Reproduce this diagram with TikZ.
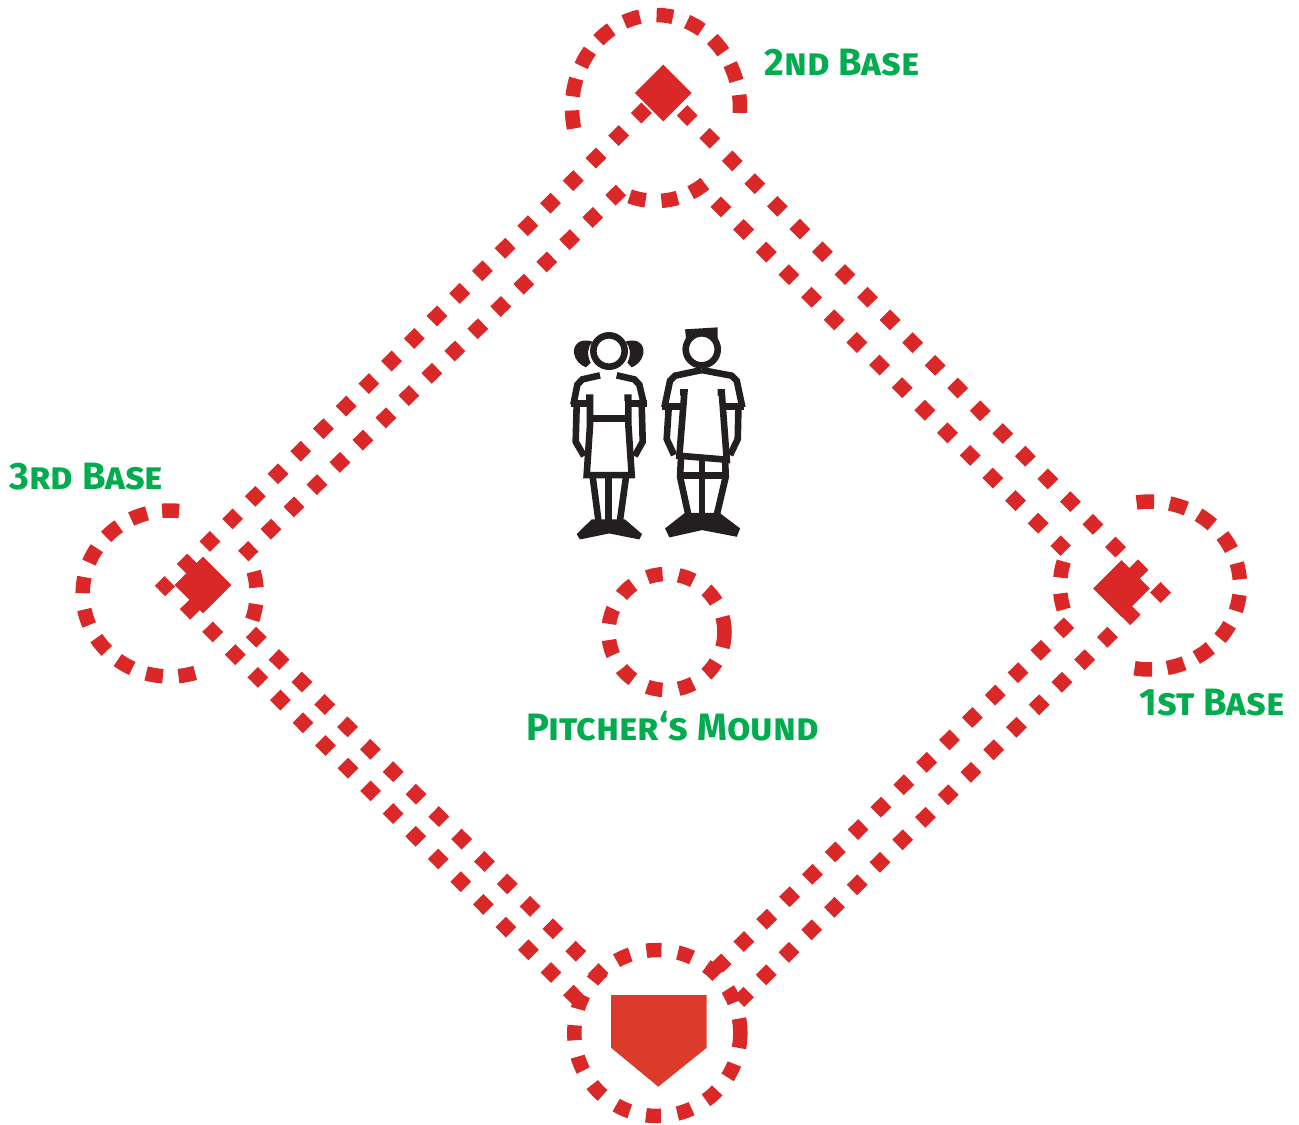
\documentclass[tikz,border=0pt]{standalone}
\usepackage{fontspec}
\setmainfont{Fira Sans}
\usetikzlibrary{shapes.geometric}
\definecolor{basered}{HTML}{DA2728}
\definecolor{platered}{HTML}{DC3A2A}
\definecolor{labelgreen}{HTML}{00AC4E}
\definecolor{figink}{HTML}{231F20}
\tikzset{
  pathdash/.style={basered,line width=2.95mm,dash pattern=on 2.95mm off 3.45mm},
  ringdash/.style={basered,line width=2.9mm},
  basemark/.style={shape=diamond,fill=basered,minimum width=11.4mm,minimum height=11.4mm,inner sep=0pt},
  baselabel/.style={anchor=base west,text=labelgreen,inner sep=0pt,font=\fontsize{21.7}{22}\selectfont\bfseries\scshape},
  figline/.style={figink,line width=1.32mm,line join=miter},
}
\begin{document}
\begin{tikzpicture}[x=.2mm,y=-.2mm]
\useasboundingbox (0,0) rectangle (1299,1124);
% rings round the bases
\coordinate (ringii) at (656,108);
\coordinate (ringi) at (1150,585.5);
\coordinate (ringiii) at (169.7,593.5);
\foreach \a in {-84,-62.7,-42.4,-22.5,-2.5,60,80.7,102.7,172.9,192.8,212.5,232.3,253.4}
  \draw[ringdash] (ringii) ++(\a-5.6:84 and 93) arc[start angle=\a-5.6,delta angle=11.2,x radius=84,y radius=93];
\foreach \a in {-93,-71.8,-51.8,-30.9,-9.8,12,33.4,53.5,73.4,94.3,169,191}
  \draw[ringdash] (ringi) ++(\a-5.6:90 and 84) arc[start angle=\a-5.6,delta angle=11.2,x radius=90,y radius=84];
\foreach \a in {-89.4,249.3,228.6,207.5,185.8,163.3,141.9,121.1,100.1,78.6,-9.7,12.9}
  \draw[ringdash] (ringiii) ++(\a-5.6:87 and 83) arc[start angle=\a-5.6,delta angle=11.2,x radius=87,y radius=83];
\draw[basered,line width=2.9mm,dash pattern=on 3mm off 3.3375mm] (740.3,1033) arc[start angle=0,delta angle=360,radius=83];
\draw[basered,line width=2.9mm,dash pattern=on 3.1mm off 3.245mm] (724.5,632) arc[start angle=0,delta angle=360,radius=58];
% base paths
\coordinate (nwa) at (646.6,107.8);  \coordinate (nwb) at (160,591);
\coordinate (nwc) at (621,190);      \coordinate (nwd) at (243.3,556);
\coordinate (nea) at (682,110.3);    \coordinate (neb) at (1166,598);
\coordinate (nec) at (715.7,201.7);  \coordinate (ned) at (1065.7,550.7);
\coordinate (sea) at (1135.4,609.5); \coordinate (seb) at (739,1001.7);
\coordinate (sec) at (1069,622.7);   \coordinate (sed) at (717.7,967.3);
\coordinate (swa) at (185,604);      \coordinate (swb) at (578.3,1000);
\coordinate (swc) at (251,632);      \coordinate (swd) at (603.3,978.3);
\draw[pathdash] (nwa) -- (nwb);
\draw[pathdash] (nwc) -- (nwd);
\draw[pathdash] (nea) -- (neb);
\draw[pathdash] (nec) -- (ned);
\draw[pathdash] (sea) -- (seb);
\draw[pathdash] (sec) -- (sed);
\draw[pathdash] (swa) -- (swb);
\draw[pathdash] (swc) -- (swd);
% bases
\node[basemark] (second) at (663.3,93) {};
\node[basemark] (third) at (203,585) {};
\node[basemark] (first) at (1121.5,588.5) {};
\fill[platered] (611,995) -- (706.7,995) -- (706.7,1047.7) -- (658.3,1086.7) -- (611,1047.7) -- cycle;
% labels
\node[baselabel] (secondlabel) at (764,75) {2nd Base};
\node[baselabel] (thirdlabel) at (9,489.5) {3rd Base};
\node[baselabel] (firstlabel) at (1139,715) {1st Base};
\node[baselabel] (moundlabel) at (526,740) {Pitcher‘s Mound};
% girl
\begin{scope}[shift={(550,310)},x=.0667mm,y=-.0667mm]
\draw[figline] (177,123) circle (47);
\fill[figink] (128,95) .. controls (90,82) and (68,105) .. (72,130) .. controls (75,150) and (90,165) .. (108,172) -- (122,158) .. controls (110,135) and (112,110) .. cycle;
\fill[figink] (226,95) .. controls (264,82) and (284,105) .. (280,130) .. controls (277,150) and (262,165) .. (245,172) -- (232,158) .. controls (244,135) and (242,110) .. cycle;
\draw[figline] (150,196) -- (97,208) -- (82,224) -- (70,284);
\draw[figline] (200,196) -- (253,208) -- (268,224) -- (282,284);
\draw[figline] (64,281) -- (128,281);
\draw[figline] (226,281) -- (290,281);
\draw[figline] (108,263) -- (120,263) -- (120,345) -- (110,495) -- (245,495) -- (235,345) -- (235,263) -- (223,263);
\draw[figline] (120,325) -- (235,325);
\draw[figline] (80,284) -- (77,395) -- (102,438);
\draw[figline] (275,284) -- (278,395) -- (254,438);
\draw[figline] (128,500) -- (145,630);
\draw[figline] (175,500) -- (175,630);
\draw[figline] (228,500) -- (210,630);
\fill[figink] (125,628) -- (80,672) -- (90,688) -- (178,670) -- (268,688) -- (276,672) -- (225,628) -- cycle;
% boy
\draw[figline] (455,118) circle (48);
\fill[figink] (405,58) -- (503,52) -- (503,88) -- (478,72) -- (430,72) -- (408,88) -- cycle;
\draw[figline] (455,180) -- (375,197) -- (360,212) -- (343,292);
\draw[figline] (455,180) -- (545,197) -- (560,212) -- (577,292);
\draw[figline] (335,290) -- (398,290);
\draw[figline] (522,290) -- (582,290);
\draw[figline] (390,247) -- (403,247) -- (388,437) -- (530,449) -- (515,247) -- (503,247);
\draw[figline] (356,292) -- (350,387) -- (372,435);
\draw[figline] (565,292) -- (563,387) -- (540,435);
\draw[figline] (393,440) -- (390,500) -- (415,615);
\draw[figline] (525,445) -- (527,500) -- (500,615);
\draw[figline] (385,497) -- (533,497);
\draw[figline] (456,450) -- (456,610);
\fill[figink] (405,608) -- (345,655) -- (358,682) -- (456,660) -- (560,680) -- (570,655) -- (508,608) -- cycle;
\end{scope}
\end{tikzpicture}
\end{document}
